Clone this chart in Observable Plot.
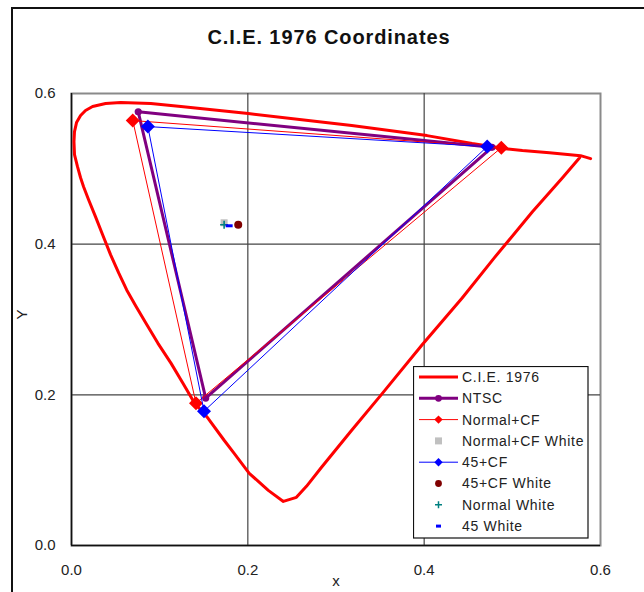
<!DOCTYPE html>
<html>
<head>
<meta charset="utf-8">
<script src="https://cdn.jsdelivr.net/npm/d3@7"></script>
<script src="https://cdn.jsdelivr.net/npm/@observablehq/plot@0.6"></script>
<style>
  html, body { margin: 0; padding: 0; background: #fff; overflow: hidden; }
  #wrap { position: relative; width: 644px; height: 592px; overflow: hidden; font-family: "Liberation Sans", Arial, sans-serif; }
  #outer { position: absolute; left: 11px; top: 7px; width: 800px; height: 800px; border-left: 2px solid #111; border-top: 2px solid #111; }
  #title { position: absolute; left: 0; top: 26px; width: 658px; text-align: center; font-size: 20px; font-weight: bold; color: #111; letter-spacing: 0.9px; }
  #chart { position: absolute; left: 0; top: 0; }
  #legend { position: absolute; left: 413px; top: 366px; }
</style>
</head>
<body>
<div id="wrap">
  <div id="outer"></div>
  <div id="chart"></div>
  <div id="title">C.I.E. 1976 Coordinates</div>
  <div id="legend"></div>
</div>
<script>
// ---- data ----
const locusX = [0.5888,0.5774,0.5421,0.5114,0.4920,0.4544,0.4032,0.3178,0.2005,0.1241,0.0900,0.0558,0.0387,0.0239,0.0159,0.0103,0.0057,0.0034,0.0028,0.0034,0.0068,0.0103,0.0137,0.0194,0.0273,0.0353,0.0444,0.0535,0.0626,0.0729,0.0843,0.0979,0.1128,0.1264,0.1390,0.1549,0.1731,0.1845,0.2016,0.2232,0.2403,0.2551,0.2665,0.2836,0.3178,0.3519,0.3975,0.4431,0.4795,0.5228,0.5569,0.5763];
const locusY = [0.5135,0.5175,0.5215,0.5242,0.5268,0.5335,0.5441,0.5574,0.5734,0.5827,0.5867,0.5880,0.5867,0.5827,0.5774,0.5707,0.5614,0.5494,0.5361,0.5188,0.5029,0.4882,0.4763,0.4590,0.4363,0.4124,0.3858,0.3618,0.3392,0.3179,0.2953,0.2687,0.2421,0.2155,0.1902,0.1689,0.1397,0.1224,0.0958,0.0732,0.0585,0.0639,0.0785,0.1038,0.1530,0.2009,0.2661,0.3286,0.3818,0.4430,0.4882,0.5148];

const ntscX = [0.0757, 0.4769, 0.1522];
const ntscY = [0.5757, 0.5285, 0.1957];

const normalCFX = [0.0695, 0.4875, 0.1412];
const normalCFY = [0.5641, 0.5281, 0.1889];

const cf45X = [0.0866, 0.4715, 0.1503];
const cf45Y = [0.5561, 0.5295, 0.1783];

const normalCFWhite = [0.1731, 0.4284];
const cf45White = [0.1891, 0.4257];
const normalWhite = [0.1731, 0.4257];
const white45 = [0.1788, 0.4244];

const xTicks = [0.0, 0.2, 0.4, 0.6];
const yTicks = [0.0, 0.2, 0.4, 0.6];

const seriesNames = ["C.I.E. 1976", "NTSC", "Normal+CF", "Normal+CF White", "45+CF", "45+CF White", "Normal White", "45 White"];

// ---- helpers ----
const pts = (xs, ys) => xs.map((x, i) => ({x, y: ys[i]}));
const closed = (xs, ys) => { const p = pts(xs, ys); return [...p, p[0]]; };

const symDiamond = h => ({draw(c) { c.moveTo(0, -h); c.lineTo(h, 0); c.lineTo(0, h); c.lineTo(-h, 0); c.closePath(); }});
const symSquare = s => ({draw(c) { c.rect(-s/2, -s/2, s, s); }});
const symPlus = h => ({draw(c) { c.moveTo(-h, 0); c.lineTo(h, 0); c.moveTo(0, -h); c.lineTo(0, h); }});
const symDash = (w, h) => ({draw(c) { c.rect(-w/2, -h/2, w, h); }});

const locus = pts(locusX, locusY);
const fmt = d3.format(".1f");

const chart = Plot.plot({
  width: 644,
  height: 592,
  marginLeft: 71,
  marginRight: 44,
  marginTop: 93,
  marginBottom: 47,
  style: {fontFamily: "Liberation Sans, Arial, sans-serif", fontSize: "15px", color: "#222", background: "transparent"},
  x: {domain: [0, 0.6]},
  y: {domain: [0, 0.6]},
  marks: [
    Plot.frame({stroke: "#8a8a8a", strokeWidth: 2}),
    Plot.gridX([0.2, 0.4], {stroke: "#444", strokeOpacity: 1, strokeWidth: 1.2}),
    Plot.gridY([0.2, 0.4], {stroke: "#444", strokeOpacity: 1, strokeWidth: 1.2}),
    Plot.ruleX([0], {stroke: "#111", strokeWidth: 1.5}),
    Plot.ruleY([0], {stroke: "#111", strokeWidth: 1.5}),
    Plot.axisX({ticks: xTicks, tickFormat: fmt, tickSize: 0, tickPadding: 19, label: null, fill: "#222"}),
    Plot.axisY({ticks: yTicks, tickFormat: fmt, tickSize: 0, tickPadding: 16, label: null, fill: "#222"}),
    Plot.text(["x"], {frameAnchor: "bottom", dy: 40, text: d => d, fontSize: 15, fill: "#222"}),
    Plot.text(["Y"], {frameAnchor: "left", dx: -49, text: d => d, rotate: -90, fontSize: 15, fill: "#222"}),
    // C.I.E. 1976 locus
    Plot.line(locus, {x: "x", y: "y", stroke: "#ff0000", strokeWidth: 3, strokeLinejoin: "round", strokeLinecap: "round"}),
    // NTSC
    Plot.line(closed(ntscX, ntscY), {x: "x", y: "y", stroke: "#800080", strokeWidth: 3}),
    Plot.dot(pts(ntscX, ntscY), {x: "x", y: "y", r: 3.6, fill: "#800080", stroke: "none"}),
    // Normal+CF
    Plot.line(closed(normalCFX, normalCFY), {x: "x", y: "y", stroke: "#ff0000", strokeWidth: 1}),
    Plot.dot(pts(normalCFX, normalCFY), {x: "x", y: "y", symbol: symDiamond(7), r: 5, fill: "#ff0000", stroke: "none"}),
    // Normal+CF White
    Plot.dot([normalCFWhite], {x: d => d[0], y: d => d[1], symbol: symSquare(7), r: 4, fill: "#c0c0c0", stroke: "none"}),
    // 45+CF
    Plot.line(closed(cf45X, cf45Y), {x: "x", y: "y", stroke: "#0000ff", strokeWidth: 1}),
    Plot.dot(pts(cf45X, cf45Y), {x: "x", y: "y", symbol: symDiamond(7), r: 5, fill: "#0000ff", stroke: "none"}),
    // 45+CF White
    Plot.dot([cf45White], {x: d => d[0], y: d => d[1], r: 4, fill: "#800000", stroke: "none"}),
    // Normal White
    Plot.dot([normalWhite], {x: d => d[0], y: d => d[1], symbol: symPlus(4), r: 4, fill: "none", stroke: "#008080", strokeWidth: 1.6}),
    // 45 White
    Plot.dot([white45], {x: d => d[0], y: d => d[1], symbol: symDash(7, 3), r: 4, fill: "#0000ff", stroke: "none"})
  ]
});
document.getElementById("chart").appendChild(chart);

// ---- legend ----
const legendItems = [
  {name: seriesNames[0], line: "#ff0000", lw: 3, sym: null},
  {name: seriesNames[1], line: "#800080", lw: 3, sym: "circle", color: "#800080"},
  {name: seriesNames[2], line: "#ff0000", lw: 1, sym: "diamond", color: "#ff0000"},
  {name: seriesNames[3], line: null, sym: "square", color: "#c0c0c0"},
  {name: seriesNames[4], line: "#0000ff", lw: 1, sym: "diamond", color: "#0000ff"},
  {name: seriesNames[5], line: null, sym: "circle", color: "#800000"},
  {name: seriesNames[6], line: null, sym: "plus", color: "#008080"},
  {name: seriesNames[7], line: null, sym: "dash", color: "#0000ff"}
];
const lw = 176, lh = 173;
const lsvg = d3.select("#legend").append("svg").attr("width", lw).attr("height", lh);
lsvg.append("rect").attr("x", 0.5).attr("y", 0.5).attr("width", lw - 1.5).attr("height", lh - 1.5)
  .attr("fill", "#fff").attr("stroke", "#111").attr("stroke-width", 1.2);
const rowY0 = 11, rowDy = 21.3;
legendItems.forEach((it, i) => {
  const cy = rowY0 + i * rowDy;
  const g = lsvg.append("g");
  const x0 = 6, x1 = 45, cx = 25.5;
  if (it.line) g.append("line").attr("x1", x0).attr("x2", x1).attr("y1", cy).attr("y2", cy).attr("stroke", it.line).attr("stroke-width", it.lw);
  if (it.sym === "circle") g.append("circle").attr("cx", cx).attr("cy", cy).attr("r", 3.4).attr("fill", it.color);
  if (it.sym === "diamond") g.append("path").attr("d", `M${cx},${cy-4.2}L${cx+4.2},${cy}L${cx},${cy+4.2}L${cx-4.2},${cy}Z`).attr("fill", it.color);
  if (it.sym === "square") g.append("rect").attr("x", cx - 3.5).attr("y", cy - 3.5).attr("width", 7).attr("height", 7).attr("fill", it.color);
  if (it.sym === "plus") g.append("path").attr("d", `M${cx-3.5},${cy}H${cx+3.5}M${cx},${cy-3.5}V${cy+3.5}`).attr("stroke", it.color).attr("stroke-width", 1.5);
  if (it.sym === "dash") g.append("rect").attr("x", cx - 2.5).attr("y", cy - 1.5).attr("width", 5).attr("height", 3).attr("fill", it.color);
  g.append("text").attr("x", 49).attr("y", cy).attr("dy", "0.35em")
    .attr("font-family", "Liberation Sans, Arial, sans-serif").attr("font-size", 14)
    .attr("letter-spacing", "0.7px").attr("fill", "#222").text(it.name);
});
</script>
</body>
</html>
